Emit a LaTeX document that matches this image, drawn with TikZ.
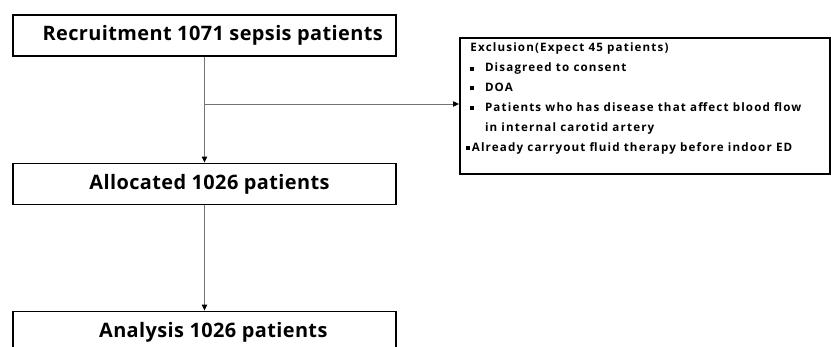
\documentclass[tikz,border=0pt]{standalone}
\usepackage{fontspec}
\setmainfont{Open Sans}[LetterSpace=2]
\newfontfamily\listfont{Open Sans}[LetterSpace=10]
\usetikzlibrary{arrows.meta}
\newcommand{\exbullet}{\rule[0.2ex]{3.4pt}{3.4pt}}
\begin{document}
\begin{tikzpicture}[x=0.03cm,y=-0.03cm,thick,
    main node/.style={draw,line width=1.6pt,minimum width=327pt,minimum height=35pt,inner sep=0pt,font=\bfseries\fontsize{17}{20}\selectfont},
    list node/.style={draw,line width=1.6pt,anchor=north west,inner xsep=7.7pt,inner ysep=0pt,minimum width=316pt,font=\listfont\bfseries\fontsize{9.9}{17}\selectfont},
    link/.style={draw=black!55,line width=0.8pt,-{Triangle[black,length=5pt,width=4.5pt]}}]
                    \useasboundingbox (0,0) rectangle (831,347);
                    \node[main node] at (204.5, 35.5) (recruit) {\hspace*{14pt}Recruitment 1071 sepsis patients};
                    \node[main node] at (204.5, 184) (allocated) {\hspace*{8.5pt}Allocated 1026 patients};
                    \node[main node] at (204.5, 332) (analysis) {\hspace*{15pt}Analysis 1026 patients};
                    \node[list node] at (459, 37) (exclusion) {\parbox[c][116pt][t]{298pt}{%
                        \strut Exclusion(Expect 45 patients)\\
                        \exbullet\hspace*{9pt}Disagreed to consent\\
                        \exbullet\hspace*{9pt}DOA\\
                        \exbullet\hspace*{9pt}Patients who has disease that affect blood flow\\
                        \hspace*{12.4pt}in internal carotid artery\\
                        \hspace*{-4.2pt}\exbullet\hspace*{2pt}Already carryout fluid therapy before indoor ED}};
                    \coordinate (split) at (204.5, 104);

                    \path (recruit) edge[link] (allocated);
                    \path (allocated) edge[link] (analysis);
                    \path (split) edge[link] (split -| exclusion.west);
                \end{tikzpicture}
\end{document}
